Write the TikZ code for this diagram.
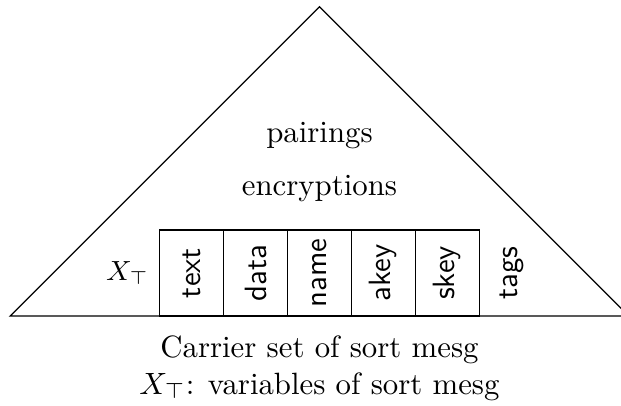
\documentclass[tikz,border=0pt]{standalone}
\usepackage{amssymb,amsmath}
\usepackage{graphicx}
\usepackage{tikz}
\usetikzlibrary{positioning}

\tikzset{
    sortbox/.style={draw, outer sep=0pt, inner sep=0pt, minimum width=0.73cm, minimum height=0.98cm, font=\sffamily},
    sortfree/.style={sortbox, draw=none}
}

\begin{document}
\begin{tikzpicture}
        \useasboundingbox (-3.646,-1.027) rectangle (3.441,3.606);
        \coordinate (apex) at (0,3.53);
        \coordinate (bl) at (-3.53,0);
        \coordinate (br) at (3.53,0);
        \draw (bl) -- (apex) -- (br) -- cycle;
        % atomic sorts
        \node[sortbox, anchor=south] (name) at (0,0) {\rotatebox{90}{name}};
        \node[sortbox, left=0pt of name] (data) {\rotatebox{90}{data}};
        \node[sortbox, left=0pt of data] (text) {\rotatebox{90}{text}};
        \node[sortbox, right=0pt of name] (akey) {\rotatebox{90}{akey}};
        \node[sortbox, right=0pt of akey] (skey) {\rotatebox{90}{skey}};
        \node[sortfree, font=\small, left=0pt of text] (var) {$X_\top$};
        \node[sortfree, right=0pt of skey] (tags) {\rotatebox{90}{tags}};
        \node[anchor=base] (pair) at (0,1.98) {pairings};
        \node[anchor=base] (enc) at (0,1.38) {encryptions};
        \node[anchor=north, align=center] (caption) at (0,-0.1) {Carrier set of sort mesg\\$X_\top$: variables of sort mesg};
\end{tikzpicture}
\end{document}
